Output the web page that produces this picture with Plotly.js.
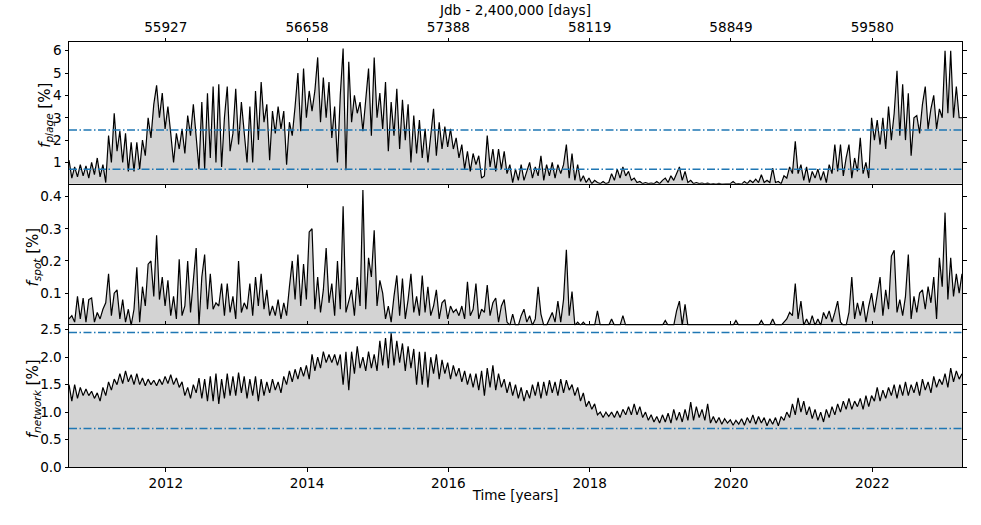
<!DOCTYPE html>
<html><head><meta charset="utf-8">
<script src="https://cdn.plot.ly/plotly-3.0.1.min.js"></script>
<style>html,body{margin:0;padding:0;background:#fff}#chart{width:981px;height:525px}</style>
</head><body><div id="chart"></div>
<script>
// sampling: first epoch (decimal year) and cadence (years)
const T0 = 2010.63;
const DT = 0.04;

// plage filling factor [%]
const plage = [
1.1,0.3,0.8,0.35,0.9,0.4,0.85,0.3,1.0,0.45,1.2,0.35,0.9,0.1,2.2,1.0,3.2,1.5,2.4,1.0,2.3,0.6,1.9,0.6,1.9,
0.7,2.0,1.3,3.0,2.1,3.6,4.45,3.0,4.1,2.5,3.5,2.3,1.0,2.3,1.6,2.5,1.4,3.1,2.2,3.6,2.0,0.7,3.7,0.7,4.1,
1.2,4.4,1.0,4.5,0.8,3.0,4.4,1.5,2.3,4.3,1.8,3.7,2.4,1.0,3.5,1.0,4.2,2.0,4.6,2.8,3.6,1.1,3.3,2.3,3.5,
2.5,3.3,0.9,2.8,2.2,3.5,5.0,2.4,5.2,3.0,4.2,3.3,4.2,5.7,2.8,4.8,3.0,4.6,2.1,3.5,1.0,4.0,6.1,0.65,5.5,
2.8,4.0,3.2,3.7,2.4,4.0,5.2,2.2,5.7,3.0,4.1,2.5,4.6,1.5,3.7,2.2,4.3,1.6,3.8,2.0,3.6,1.0,3.1,1.4,2.9,
1.2,2.5,1.0,2.2,3.4,1.3,2.8,1.6,2.6,1.7,2.5,1.6,2.1,1.2,1.8,0.7,1.5,0.6,1.4,0.9,1.3,0.3,0.4,2.2,0.8,
1.6,0.6,1.6,0.7,1.5,0.5,0.9,0.1,0.7,0.2,0.9,0.2,0.6,1.0,0.3,0.8,0.4,1.3,0.2,0.9,0.4,1.0,0.3,0.9,0.5,
0.9,1.8,0.3,1.4,0.2,0.9,0.15,0.4,0.1,0.3,0.05,0.2,0.1,0.05,0.15,0.05,0.1,0.5,0.2,0.7,0.3,0.8,0.4,0.6,0.2,
0.3,0.1,0.15,0.05,0.1,0.05,0.08,0.05,0.15,0.05,0.2,0.3,0.1,0.4,0.2,0.5,0.8,0.2,0.6,0.1,0.2,0.05,0.1,0.05,0.08,
0.04,0.07,0.03,0.05,0.03,0.06,0.03,0.04,0.03,0.05,0.15,0.04,0.05,0.03,0.15,0.05,0.2,0.1,0.25,0.1,0.45,0.1,0.2,0.1,0.75,
0.1,0.15,0.05,0.4,0.3,0.8,0.5,1.95,0.5,0.9,0.2,0.8,0.1,0.6,0.3,0.7,0.2,0.6,0.1,0.9,0.5,1.8,0.6,1.8,0.4,
1.2,1.8,0.3,1.2,0.6,2.1,0.5,1.0,0.3,3.0,2.0,2.9,1.8,3.0,1.6,3.5,2.0,3.2,5.1,2.2,4.5,2.0,4.1,1.3,3.0,
3.1,2.3,3.6,4.4,2.5,3.4,4.0,2.5,3.4,3.0,6.0,3.2,6.0,3.0,4.4,3.0,3.0
];

// spot filling factor [%]
const spot = [
0.02,0.03,0.01,0.09,0.02,0.085,0.01,0.08,0.085,0.01,0.04,0.02,0.05,0.07,0.16,0.03,0.1,0.11,0.02,0.08,0.01,0.05,0.0,0.05,0.18,
0.01,0.12,0.06,0.19,0.2,0.09,0.28,0.08,0.15,0.06,0.14,0.03,0.09,0.02,0.205,0.03,0.06,0.2,0.04,0.14,0.24,0.0,0.15,0.22,0.05,
0.16,0.05,0.07,0.06,0.13,0.03,0.13,0.04,0.09,0.02,0.2,0.04,0.07,0.05,0.13,0.03,0.15,0.06,0.16,0.05,0.11,0.03,0.06,0.03,0.08,
0.02,0.07,0.03,0.12,0.2,0.08,0.22,0.06,0.19,0.08,0.29,0.3,0.05,0.15,0.04,0.11,0.24,0.07,0.13,0.03,0.2,0.05,0.37,0.04,0.08,
0.11,0.03,0.15,0.06,0.42,0.05,0.21,0.15,0.295,0.06,0.14,0.1,0.02,0.06,0.01,0.09,0.155,0.03,0.145,0.02,0.08,0.16,0.04,0.09,0.03,
0.155,0.04,0.12,0.03,0.06,0.11,0.02,0.07,0.08,0.02,0.06,0.04,0.05,0.03,0.06,0.02,0.135,0.03,0.05,0.13,0.02,0.05,0.04,0.125,0.03,
0.07,0.085,0.01,0.06,0.08,0.01,0.0,0.035,0.0,0.0,0.03,0.05,0.01,0.03,0.0,0.02,0.12,0.035,0.0,0.0,0.02,0.04,0.01,0.075,0.01,
0.08,0.235,0.03,0.105,0.0,0.01,0.0,0.01,0.0,0.0,0.0,0.0,0.045,0.0,0.0,0.0,0.0,0.02,0.0,0.0,0.0,0.03,0.0,0.0,0.0,
0,0,0,0,0,0,0,0,0,0,0,0.015,0,0,0,0.045,0.075,0,0.065,0,0,0,0,0,0,
0,0,0,0,0,0,0,0,0,0,0,0.015,0,0,0,0,0,0,0,0,0.015,0,0,0,0.02,
0,0,0,0.01,0.02,0.04,0.03,0.13,0.02,0.075,0.0,0.02,0.0,0.03,0.0,0.02,0.0,0.04,0.02,0.045,0.01,0.04,0.075,0.01,0.0,
0.0,0.04,0.15,0.02,0.07,0.03,0.075,0.01,0.06,0.1,0.04,0.1,0.15,0.03,0.11,0.05,0.215,0.233,0.04,0.08,0.03,0.09,0.22,0.02,0.09,
0.04,0.1,0.11,0.05,0.12,0.07,0.15,0.02,0.21,0.12,0.35,0.08,0.21,0.09,0.16,0.1,0.16
];

// network filling factor [%]
const network = [
1.5,1.2,1.5,1.25,1.45,1.3,1.42,1.3,1.38,1.25,1.35,1.2,1.45,1.3,1.55,1.4,1.6,1.5,1.7,1.52,1.75,1.55,1.68,1.5,1.7,
1.5,1.62,1.48,1.6,1.5,1.58,1.48,1.6,1.5,1.65,1.52,1.68,1.5,1.62,1.45,1.55,1.3,1.45,1.25,1.5,1.35,1.62,1.25,1.6,1.2,
1.65,1.2,1.7,1.15,1.6,1.25,1.7,1.3,1.65,1.3,1.72,1.35,1.65,1.25,1.6,1.3,1.65,1.2,1.6,1.3,1.55,1.35,1.6,1.4,1.55,
1.35,1.65,1.5,1.75,1.55,1.78,1.6,1.82,1.65,1.85,1.6,2.05,1.75,2.0,1.8,2.1,1.9,2.05,1.9,2.05,1.85,2.05,1.5,2.1,1.4,
2.1,1.7,2.2,1.8,2.0,1.75,2.1,1.8,2.05,1.75,2.3,1.85,2.35,1.8,2.44,1.85,2.3,1.9,2.25,1.75,2.2,1.8,2.15,1.5,2.1,
1.5,2.1,1.45,2.0,1.7,2.05,1.6,1.95,1.7,1.9,1.6,1.85,1.65,1.8,1.55,1.75,1.5,1.7,1.45,1.7,1.4,1.75,1.3,1.8,1.45,
1.85,1.4,1.7,1.45,1.6,1.35,1.55,1.3,1.5,1.25,1.45,1.2,1.4,1.25,1.5,1.3,1.55,1.25,1.55,1.3,1.58,1.35,1.55,1.3,1.6,
1.35,1.58,1.4,1.5,1.3,1.45,1.2,1.35,1.1,1.2,1.05,1.15,0.95,1.0,0.9,1.0,0.92,1.0,0.9,1.02,0.9,1.05,0.95,1.1,0.95,
1.15,0.95,1.1,0.9,1.0,0.85,0.95,0.82,0.92,0.8,0.95,0.82,0.98,0.8,1.05,0.85,1.0,0.82,1.05,0.85,1.18,0.85,1.1,0.9,1.05,
0.85,1.15,0.8,0.92,0.8,0.9,0.78,0.88,0.8,0.86,0.76,0.85,0.78,0.88,0.76,0.9,0.8,0.95,0.78,0.92,0.8,0.9,0.75,0.88,0.78,
0.9,0.75,0.92,0.85,1.0,0.9,1.15,0.95,1.26,1.0,1.2,0.95,1.1,0.88,1.05,0.85,1.0,0.82,1.05,0.9,1.1,0.95,1.15,1.0,1.2,
1.05,1.25,1.05,1.2,1.1,1.25,1.05,1.3,1.1,1.3,1.2,1.45,1.2,1.4,1.25,1.45,1.3,1.5,1.25,1.5,1.3,1.55,1.3,1.5,1.35,
1.55,1.3,1.6,1.4,1.55,1.35,1.65,1.45,1.6,1.5,1.7,1.45,1.8,1.55,1.75,1.6,1.7
];

// axis ticks
const yearTicks = [2012, 2014, 2016, 2018, 2020, 2022];
const jdTickLabels = ['55927', '56658', '57388', '58119', '58849', '59580'];
const plageTicks = [1, 2, 3, 4, 5, 6];
const spotTicks = [0.1, 0.2, 0.3, 0.4];
const networkTicks = [0.0, 0.5, 1.0, 1.5, 2.0, 2.5];
// reference levels (dash-dot lines)
const levels = [2.45, 0.70];
// panel labels
const panelLabels = [
  '<i>f</i><sub><i>plage</i></sub> [%]',
  '<i>f</i><sub><i>spot</i></sub> [%]',
  '<i>f</i><sub><i>network</i></sub> [%]'
];

const timesFor = arr => arr.map((_, i) => +(T0 + i * DT).toFixed(3));
const tAll = timesFor(network);
const xRange = [tAll[0], tAll[tAll.length - 1]];

const FONT = 'DejaVu Sans, Verdana, sans-serif';
const tf = {family: FONT, size: 13.6, color: '#000'};
const yt = {family: FONT, size: 15, color: '#000'};

function series(y, xa, ya) {
  return {
    x: timesFor(y), y: y, xaxis: xa, yaxis: ya, type: 'scatter', mode: 'lines',
    fill: 'tozeroy', fillcolor: '#d3d3d3',
    line: {color: '#000', width: 1.2}, hoverinfo: 'skip', showlegend: false
  };
}

// top panel uses x2 (JD axis on top); middle and bottom share x (years)
const data = [
  series(plage, 'x2', 'y'),
  series(spot, 'x', 'y2'),
  series(network, 'x', 'y3')
];

const common = {
  showline: true, linecolor: '#000', linewidth: 1, mirror: 'ticks',
  ticks: 'outside', ticklen: 3.5, tickwidth: 1, tickcolor: '#000',
  showgrid: false, zeroline: false, tickfont: tf, fixedrange: true
};

const shapes = [];
levels.forEach(v => {
  [['x2 domain', 'y'], ['x domain', 'y3']].forEach(([xr, yr]) => {
    shapes.push({type: 'line', xref: xr, yref: yr, x0: 0, x1: 1, y0: v, y1: v,
      layer: 'above', line: {color: '#1f77b4', width: 1.5, dash: '8px,2.5px,1.5px,2.5px'}});
  });
});

// y-axis labels (rotated annotations left of each panel)
const labelX = [-23 / 893, -36 / 893, -36 / 893];
const labelY = [5 / 6, 3 / 6, 1 / 6];
const annotations = panelLabels.map((t, i) => ({
  text: t, xref: 'paper', yref: 'paper', x: labelX[i], y: labelY[i],
  xanchor: 'center', yanchor: 'middle', textangle: -90, showarrow: false,
  yshift: -3, font: yt
}));

const layout = {
  width: 981, height: 525,
  margin: {l: 69, r: 19, t: 42, b: 58},
  paper_bgcolor: '#fff', plot_bgcolor: '#fff',
  showlegend: false, shapes: shapes, annotations: annotations,
  font: tf,
  xaxis: Object.assign({}, common, {
    anchor: 'y3', range: xRange, tickvals: yearTicks, ticktext: yearTicks.map(String),
    title: {text: 'Time [years]', font: tf, standoff: 0}
  }),
  xaxis2: Object.assign({}, common, {
    anchor: 'y', side: 'top', range: xRange, tickvals: yearTicks, ticktext: jdTickLabels,
    title: {text: 'Jdb - 2,400,000 [days]', font: tf, standoff: 0}
  }),
  yaxis: Object.assign({}, common, {
    anchor: 'x2', domain: [2/3, 1], range: [0.05, 6.39], tickvals: plageTicks
  }),
  yaxis2: Object.assign({}, common, {
    anchor: 'x', domain: [1/3, 2/3], range: [0, 0.44], tickvals: spotTicks
  }),
  yaxis3: Object.assign({}, common, {
    anchor: 'x', domain: [0, 1/3], range: [0, 2.58], tickvals: networkTicks, tickformat: '.1f'
  })
};

Plotly.newPlot('chart', data, layout, {staticPlot: true, displayModeBar: false});
</script>
</body></html>
